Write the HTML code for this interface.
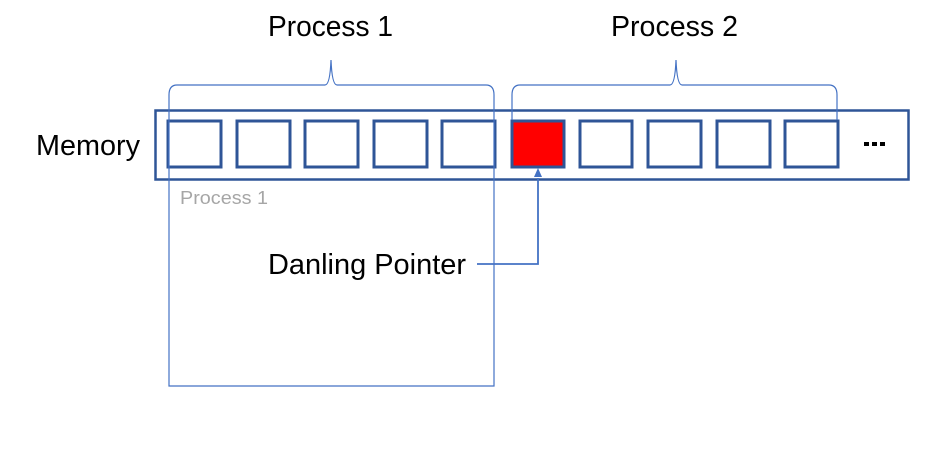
<!DOCTYPE html>
<html><head><style>body{margin:0;background:#fff;width:934px;height:461px;overflow:hidden}</style></head><body>
<svg width="934" height="461" xmlns="http://www.w3.org/2000/svg" font-family="Liberation Sans, sans-serif">
<rect x="155.5" y="110.5" width="753" height="69" fill="none" stroke="#2f5597" stroke-width="2.5"/>
<g fill="none" stroke="#2f5597" stroke-width="3">
<rect x="168" y="121" width="53" height="46"/>
<rect x="237" y="121" width="53" height="46"/>
<rect x="305" y="121" width="53" height="46"/>
<rect x="374" y="121" width="53" height="46"/>
<rect x="442" y="121" width="53" height="46"/>
<rect x="512" y="121" width="52" height="46" fill="#ff0000"/>
<rect x="580" y="121" width="52" height="46"/>
<rect x="648" y="121" width="53" height="46"/>
<rect x="717" y="121" width="53" height="46"/>
<rect x="785" y="121" width="53" height="46"/>
</g>
<g fill="none" stroke="#4472c4" stroke-width="1.2">
<path d="M169 386 V95 Q169 85 177 85 H325 Q330 85 331 60 Q332 85 337 85 H486 Q494 85 494 95 V386 Z"/>
<path d="M512 120 V95 Q512 85 520 85 H670 Q675 85 676 60 Q677 85 682 85 H829 Q837 85 837 95 V120"/>
</g>
<path d="M477 264 H538 V178" fill="none" stroke="#4472c4" stroke-width="1.8"/>
<polygon points="538,168 534,177 542,177" fill="#4472c4"/>
<text x="268" y="36" font-size="29" textLength="125" lengthAdjust="spacingAndGlyphs">Process 1</text>
<text x="611" y="36" font-size="29" textLength="127" lengthAdjust="spacingAndGlyphs">Process 2</text>
<text x="36" y="155" font-size="29" textLength="104" lengthAdjust="spacingAndGlyphs">Memory</text>
<g fill="#000"><rect x="864" y="142" width="5" height="4"/><rect x="872" y="142" width="5" height="4"/><rect x="880" y="142" width="5" height="4"/></g>
<text x="180" y="204" font-size="18" fill="#a6a6a6" textLength="88" lengthAdjust="spacingAndGlyphs">Process 1</text>
<text x="268" y="274" font-size="29" textLength="198" lengthAdjust="spacingAndGlyphs">Danling Pointer</text>
</svg>
</body></html>
